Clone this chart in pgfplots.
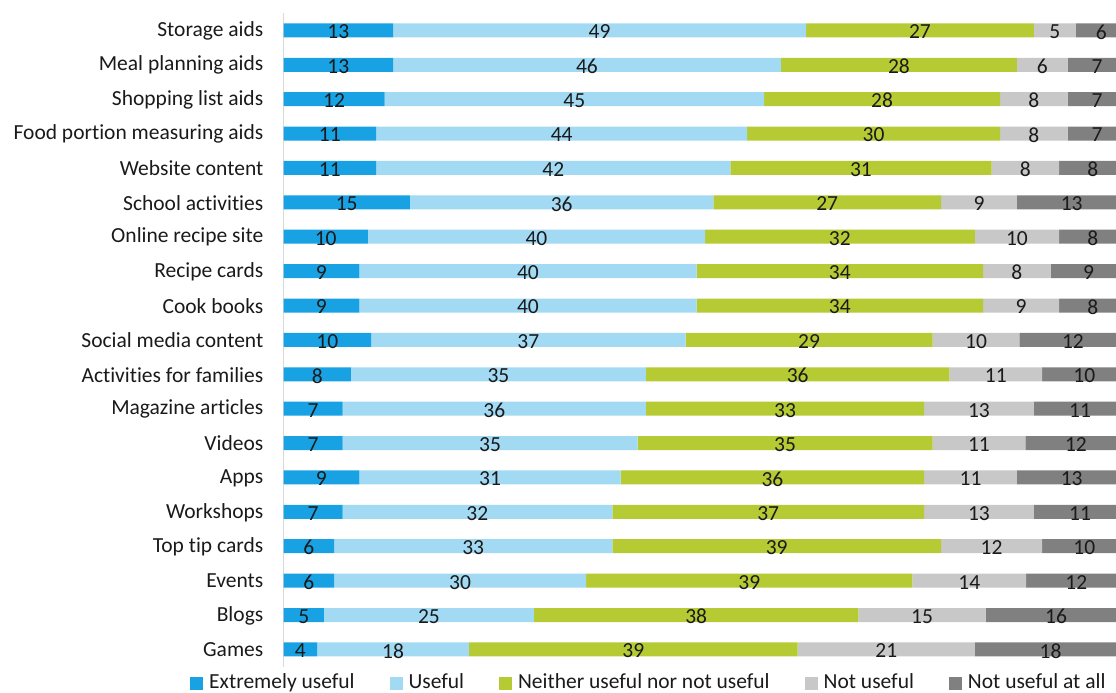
\documentclass[border=0pt]{standalone}
\usepackage{fontspec}
\setmainfont{Carlito}[Ligatures=NoCommon]
\usepackage{pgfplots}
\usepackage{pgfplotstable}
\pgfplotsset{compat=1.18}
\definecolor{cA}{HTML}{18A2E4}
\definecolor{cB}{HTML}{A3DAF3}
\definecolor{cC}{HTML}{B6CA33}
\definecolor{cD}{HTML}{C8C8C8}
\definecolor{cE}{HTML}{808080}
\definecolor{txt}{HTML}{1A1A1A}
\definecolor{axln}{HTML}{D9D9D9}
\pgfplotstableread{
y  v1    v2    v3    v4    v5    l1 l2 l3 l4 l5
0  13    49    27    5     6     13 49 27 5  6
1  13    46    28    6     7     13 46 28 6  7
2  12    45    28    8     7     12 45 28 8  7
3  11    44    30    8     7     11 44 30 8  7
4  11    42    31    8     8     11 42 31 8  8
5  15    36    27    9     13    15 36 27 9  13
6  10    40    32    10    8     10 40 32 10 8
7  9     40    34    8     9     9  40 34 8  9
8  9     40    34    9     8     9  40 34 9  8
9  10.4  37.3  29.3  10.3  12.7  10 37 29 10 12
10 8     35    36    11    10    8  35 36 11 10
11 7     36    33    13    11    7  36 33 13 11
12 7     35    35    11    12    7  35 35 11 12
13 9     31    36    11    13    9  31 36 11 13
14 7     32    37    13    11    7  32 37 13 11
15 6     33    39    12    10    6  33 39 12 10
16 6.0   29.9  38.7  13.5  11.9  6  30 39 14 12
17 4.8   24.9  38.5  15.1  16.7  5  25 38 15 16
18 4     18    39    21    18    4  18 39 21 18
}\data
\newcommand{\ff}{\fontsize{21.5pt}{25pt}\selectfont}
\begin{document}
\ff
\begin{tikzpicture}
\useasboundingbox (0,0) rectangle (1116pt,693pt);
\begin{axis}[
  at={(283.5pt,26.4pt)}, anchor=south west,
  scale only axis, width=843pt, height=653.4pt,
  xbar stacked, bar width=14pt,
  xmin=0, xmax=100, ymin=-0.5, ymax=18.5, y dir=reverse,
  axis x line=none, axis y line*=left,
  y axis line style={draw=axln, line width=1.5pt, -},
  ytick={0,...,18},
  yticklabels={Storage aids, Meal planning aids, Shopping list aids, Food portion measuring aids, Website content, School activities, Online recipe site, Recipe cards, Cook books, Social media content, Activities for families, Magazine articles, Videos, Apps, Workshops, Top tip cards, Events, Blogs, Games},
  major tick length=0pt,
  yticklabel style={inner sep=0pt, xshift=-20pt, yshift=-0.5pt, text=txt, font=\ff},
  point meta=explicit symbolic,
  nodes near coords={\pgfplotspointmeta},
  every node near coord/.append style={anchor=center, text=txt, font=\ff, inner sep=0pt, yshift=-1.5pt},
  legend columns=-1,
  legend style={at={(axis description cs:-0.1109,-0.0252)}, anchor=west, draw=none, fill=none, inner sep=0pt, font=\ff, text=txt,
    nodes={inner sep=0pt},
    /tikz/every even column/.append style={column sep=35pt},
    /tikz/every odd column/.append style={column sep=6pt}},
]
\addplot[fill=cA, draw=none,
  legend image code/.code={\fill[cA] (0pt,-6.5pt) rectangle (13pt,6.5pt);}]
  table[x=v1,y=y,meta=l1]{\data};
\addlegendentry{Extremely useful}
\addplot[fill=cB, draw=none,
  legend image code/.code={\fill[cB] (0pt,-6.5pt) rectangle (13pt,6.5pt);}]
  table[x=v2,y=y,meta=l2]{\data};
\addlegendentry{Useful}
\addplot[fill=cC, draw=none,
  legend image code/.code={\fill[cC] (0pt,-6.5pt) rectangle (13pt,6.5pt);}]
  table[x=v3,y=y,meta=l3]{\data};
\addlegendentry{Neither useful nor not useful}
\addplot[fill=cD, draw=none,
  legend image code/.code={\fill[cD] (0pt,-6.5pt) rectangle (13pt,6.5pt);}]
  table[x=v4,y=y,meta=l4]{\data};
\addlegendentry{Not useful}
\addplot[fill=cE, draw=none,
  legend image code/.code={\fill[cE] (0pt,-6.5pt) rectangle (13pt,6.5pt);}]
  table[x=v5,y=y,meta=l5]{\data};
\addlegendentry{Not useful at all}
\end{axis}
\end{tikzpicture}
\end{document}
